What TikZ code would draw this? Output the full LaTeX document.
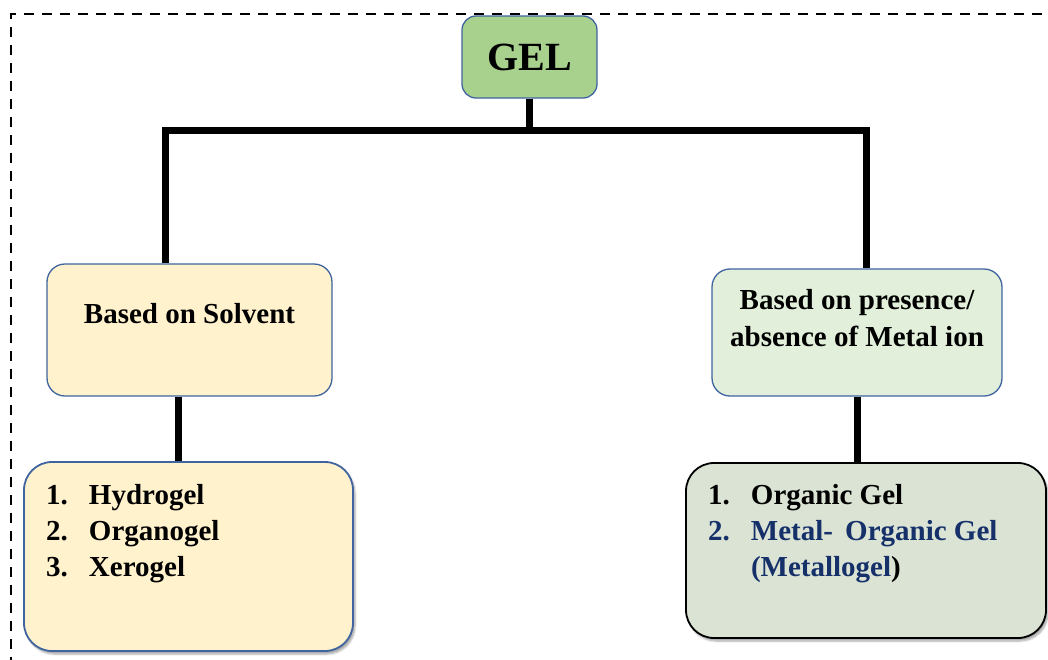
\documentclass[tikz,border=0pt]{standalone}
\usepackage{fontspec}
\setmainfont{Liberation Serif}
\usetikzlibrary{shadows.blur}

\definecolor{gelgreen}{HTML}{A9D18E}
\definecolor{solvfill}{HTML}{FFF2CC}
\definecolor{metalfill}{HTML}{E2EFDA}
\definecolor{mogfill}{HTML}{DAE3D4}
\definecolor{boxblue}{HTML}{3F64A0}
\definecolor{mognavy}{HTML}{16306A}

% text block of fixed size, text starts below the top
\newcommand{\boxtext}[4]{\parbox[c][#2pt][t]{#1pt}{\vspace*{#3pt}#4}}
\newcommand{\gelitem}[2]{\hspace*{22pt}\makebox[43pt][l]{#1}#2}

\begin{document}
\begin{tikzpicture}[x=1pt,y=-1pt,
  catbox/.style={draw=boxblue,line width=1.3pt,rounded corners=18pt,inner sep=0pt,
    font=\fontsize{29}{37}\selectfont\bfseries},
  listbox/.style={catbox,line width=1.8pt,rounded corners=28pt,
    blur shadow={shadow xshift=2pt,shadow yshift=-3pt,shadow blur steps=6,shadow opacity=35},
    font=\fontsize{29}{36}\selectfont\bfseries},
  tree/.style={line width=7pt,line join=miter}]
\useasboundingbox (0,0) rectangle (1048,659);

% frame, cut by the page on the right and at the bottom
\draw[line width=2.6pt,dash pattern=on 10pt off 8pt] (1060,14) -- (11,14) -- (11,670);

\node[catbox,fill=gelgreen,rounded corners=14pt,font=\fontsize{40}{44}\selectfont\bfseries,
  minimum width=135pt,minimum height=82pt] (gel) at (529.5,57) {GEL};

\node[catbox,fill=solvfill] (solvent) at (189.5,330)
  {\boxtext{285}{132}{33.8}{\centering\strut Based on Solvent}};
\node[catbox,fill=metalfill] (metal) at (857,332.5)
  {\boxtext{290}{127}{14.8}{\centering\strut Based on presence/\\ absence of Metal ion}};

\node[listbox,fill=solvfill] (solvlist) at (188.5,556.5)
  {\boxtext{329}{189}{16.8}{\strut\gelitem{1.}{Hydrogel}\\
    \gelitem{2.}{Organogel}\\ \gelitem{3.}{Xerogel}}};
\node[listbox,fill=mogfill,draw=black] (metallist) at (866,550.5)
  {\boxtext{360}{175}{15.8}{\strut\gelitem{1.}{Organic Gel}\\
    \color{mognavy}\gelitem{2.}{Metal-\, Organic Gel}\\
    \gelitem{}{(Metallogel\textcolor{black}{)}}}};

\coordinate (barL) at (165.5,130);
\coordinate (barR) at (866,130);

\draw[tree] (gel.south) -- (gel.south |- barL);
\draw[tree] (solvent.north -| barL) -- (barL) -- (barR) -- (metal.north -| barR);
\draw[tree] ([xshift=-11.5pt]solvent.south) -- ([xshift=-11.5pt]solvent.south |- solvlist.north);
\draw[tree] (metal.south) -- (metal.south |- metallist.north);
\end{tikzpicture}
\end{document}
